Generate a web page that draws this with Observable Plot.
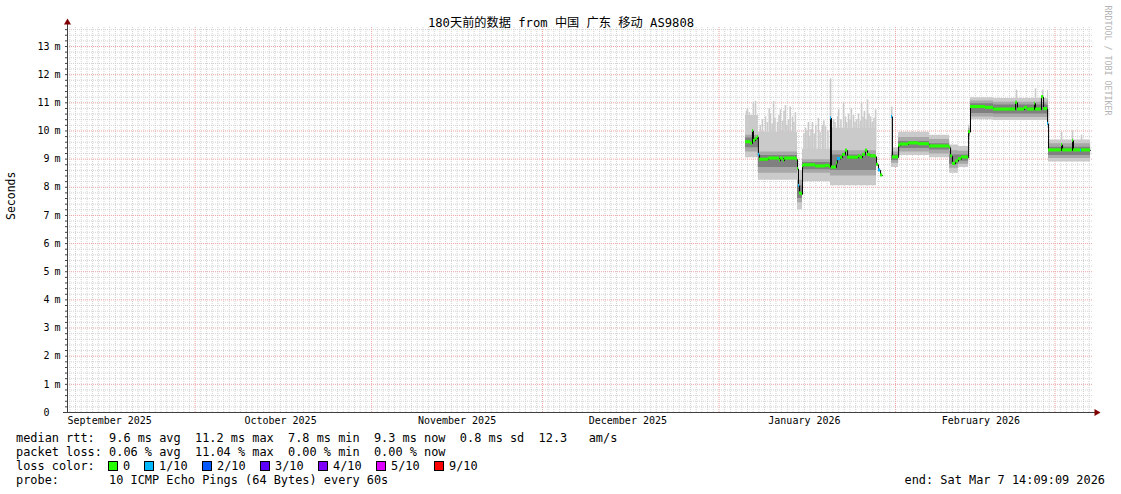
<!DOCTYPE html>
<html><head><meta charset="utf-8">
<script src="https://cdn.jsdelivr.net/npm/d3@7"></script>
<script src="https://cdn.jsdelivr.net/npm/@observablehq/plot@0.6"></script>
<style>
html,body{margin:0;padding:0;background:#fff;}
#wrap{position:relative;width:1121px;height:494px;overflow:hidden;font-family:"DejaVu Sans Mono",monospace;color:#000;background:#fff;}
#chart{position:absolute;left:0;top:0;}
.lg{position:absolute;font-size:11.9px;line-height:14px;white-space:pre;}
.box{position:absolute;width:8px;height:8px;border:1px solid #000;}
</style></head><body><div id="wrap"><div id="chart"></div></div>
<script>
// ---------------- data ----------------
const titleText = "180天前的数据 from 中国 广东 移动 AS9808";
const yAxisTitle = "Seconds";
const watermark = "RRDTOOL / TOBI OETIKER";
const rangeStart = "2025-09-08T14:09:09Z";
const rangeEnd = "2026-03-07T14:09:09Z";

const yTicks = [0,1,2,3,4,5,6,7,8,9,10,11,12,13];
const yUnit = "m";
const xTickDates = ["2025-09-16","2025-10-16","2025-11-16","2025-12-16","2026-01-16","2026-02-16"];
const xTickLabels = ["September 2025","October 2025","November 2025","December 2025","January 2026","February 2026"];

// median rtt (ms) at change points, with packet loss count (of 10)
const medTime = ["2026-01-05T16","2026-01-06T13","2026-01-06T21","2026-01-07T01","2026-01-07T10","2026-01-07T18","2026-01-07T22","2026-01-08T03","2026-01-09T17","2026-01-11T15","2026-01-11T19","2026-01-12T08","2026-01-12T12","2026-01-14T15","2026-01-14T19","2026-01-14T23","2026-01-15T03","2026-01-15T12","2026-01-15T16","2026-01-15T20","2026-01-17T23","2026-01-19T17","2026-01-20T10","2026-01-20T14","2026-01-20T18","2026-01-21T15","2026-01-21T19","2026-01-22T08","2026-01-22T17","2026-01-23T05","2026-01-23T14","2026-01-25T12","2026-01-25T20","2026-01-26T05","2026-01-26T17","2026-01-27T02","2026-01-27T15","2026-01-28T12","2026-01-28T16","2026-01-29T00","2026-01-29T09","2026-01-29T17","2026-01-29T18","2026-01-31T07","2026-01-31T11","2026-02-01T13","2026-02-01T21","2026-02-03T07","2026-02-05T01","2026-02-06T23","2026-02-10T12","2026-02-10T16","2026-02-11T00","2026-02-11T13","2026-02-12T01","2026-02-12T14","2026-02-13T15","2026-02-13T20","2026-02-14T04","2026-02-16T19","2026-02-18T05","2026-02-22T02","2026-02-22T10","2026-02-23T16","2026-02-24T04","2026-02-25T10","2026-02-25T14","2026-02-26T15","2026-02-27T00","2026-02-27T17","2026-02-27T21","2026-03-02T04","2026-03-02T08","2026-03-04T02","2026-03-04T06","2026-03-05T12","2026-03-05T16","2026-03-07T06"];
const medValue = [9.6,9.55,10.0,9.65,9.72,9.78,9.15,8.98,9.02,8.94,9.02,8.94,9.02,8.98,8.65,8.05,7.78,7.75,8.75,8.78,8.74,8.76,8.72,10.45,8.7,8.85,9.0,9.05,9.15,9.3,9.05,9.1,9.05,9.15,9.3,9.15,9.1,9.08,8.8,8.6,8.42,8.42,NaN,10.5,9.06,9.48,9.52,9.56,9.53,9.45,9.4,9.1,8.83,8.92,9.0,9.06,9.05,9.96,10.85,10.82,10.76,11.0,10.76,10.82,10.76,10.97,10.76,11.2,10.78,10.25,9.31,9.5,9.31,9.65,9.31,9.3,9.31,9.31];
const medLoss = [0,0,0,0,0,0,1,0,0,0,0,0,0,0,0,1,0,0,0,0,0,0,0,1,0,0,1,0,0,0,0,0,0,0,0,0,0,0,0,1,0,0,0,1,0,0,0,0,0,0,0,0,0,0,0,0,0,0,0,0,0,0,0,0,0,0,0,0,0,1,0,0,0,0,0,1,0,0];

// smoke (ping distribution) bands in ms, step segments
const smokeTime = ["2026-01-05T16","2026-01-07T22","2026-01-14T19","2026-01-15T16","2026-01-20T14","2026-01-28T16","2026-01-29T18","2026-01-31T07","2026-02-01T13","2026-02-06T23","2026-02-10T12","2026-02-12T01","2026-02-13T20","2026-02-14T04","2026-02-18T05","2026-02-27T17","2026-02-27T21","2026-03-07T06"];
const smokeMin = [9.05,8.25,7.2,8.2,8.05,7.9,NaN,8.7,9.13,9.05,8.5,8.7,9.7,10.4,10.37,10.1,8.9,8.9];
const smokeLo1 = [9.25,8.5,7.45,8.5,8.4,8.1,NaN,8.85,9.25,9.18,8.68,8.82,9.8,10.5,10.48,10.3,9.02,9.02];
const smokeLo2 = [9.4,8.7,7.6,8.62,8.6,8.25,NaN,8.95,9.38,9.32,8.82,8.92,9.88,10.62,10.6,10.5,9.13,9.13];
const smokeHi2 = [9.75,9.13,8.05,8.88,9.15,8.7,NaN,9.15,9.63,9.55,9.15,9.15,10.02,10.97,10.92,10.9,9.42,9.42];
const smokeHi1 = [9.85,9.25,8.25,8.98,9.3,8.85,NaN,9.25,9.77,9.7,9.3,9.28,10.1,11.06,11.02,11.1,9.55,9.55];
const smokeMax = [10.55,9.95,8.6,9.35,10.1,9.3,NaN,9.4,9.95,9.85,9.5,9.45,10.2,11.18,11.15,11.45,9.68,9.68];

// isolated high pings (ms)
const spikeTime = ["2026-01-05T20","2026-01-06T00","2026-01-06T08","2026-01-07T01","2026-01-07T10","2026-01-08T06","2026-01-08T15","2026-01-09T04","2026-01-09T12","2026-01-09T20","2026-01-10T01","2026-01-10T08","2026-01-10T14","2026-01-10T20","2026-01-11T07","2026-01-11T13","2026-01-11T19","2026-01-12T04","2026-01-12T10","2026-01-12T16","2026-01-12T22","2026-01-13T05","2026-01-13T12","2026-01-13T22","2026-01-14T03","2026-01-14T10","2026-01-15T22","2026-01-16T05","2026-01-16T11","2026-01-16T17","2026-01-16T23","2026-01-17T04","2026-01-17T10","2026-01-17T17","2026-01-18T00","2026-01-18T11","2026-01-18T18","2026-01-19T04","2026-01-19T10","2026-01-19T17","2026-01-20T03","2026-01-20T14","2026-01-21T03","2026-01-21T09","2026-01-21T20","2026-01-22T00","2026-01-22T10","2026-01-22T21","2026-01-23T05","2026-01-23T10","2026-01-23T18","2026-01-24T00","2026-01-24T06","2026-01-24T15","2026-01-24T21","2026-01-25T04","2026-01-25T12","2026-01-25T20","2026-01-26T01","2026-01-26T07","2026-01-26T13","2026-01-26T20","2026-01-27T02","2026-01-27T08","2026-01-27T15","2026-01-27T22","2026-01-28T05","2026-01-28T12","2026-01-31T08","2026-02-16T19","2026-02-22T06","2026-02-25T14","2026-02-26T20","2026-03-02T04","2026-03-04T02","2026-03-05T16"];
const spikeTop = [10.7,10.8,10.65,11.0,11.05,10.2,10.4,10.5,10.3,10.8,10.6,10.25,11.05,10.45,10.3,10.55,10.75,10.35,10.7,10.9,10.2,10.4,10.85,10.5,10.3,10.65,9.9,10.1,10.0,10.3,9.8,10.05,10.3,9.9,10.2,10.45,9.95,10.2,10.35,10.15,10.0,11.85,10.4,10.3,10.5,10.75,10.4,11.0,10.5,10.3,10.6,10.4,10.8,10.55,10.3,10.4,10.6,10.35,11.0,10.5,10.7,10.4,11.1,10.6,10.5,10.3,10.45,10.75,10.85,11.15,11.45,11.5,11.45,9.95,10.0,9.85];

const lossLabels = ["0","1/10","2/10","3/10","4/10","5/10","9/10"];
const lossColors = ["#26ff00","#00b8ff","#0059ff","#5e00ff","#7e00ff","#dd00ff","#ff0000"];
const lossColorByCount = {0:"#26ff00",1:"#00b8ff",2:"#0059ff",3:"#5e00ff",4:"#7e00ff",5:"#dd00ff",9:"#ff0000"};

const legendRtt = "median rtt:  9.6 ms avg  11.2 ms max  7.8 ms min  9.3 ms now  0.8 ms sd  12.3   am/s";
const legendLoss = "packet loss: 0.06 % avg  11.04 % max  0.00 % min  0.00 % now";
const legendLossTitle = "loss color:";
const legendProbe = "probe:       10 ICMP Echo Pings (64 Bytes) every 60s";
const legendEnd = "end: Sat Mar  7 14:09:09 2026";

// ---------------- build ----------------
const T = s => new Date(s + ":00:00Z");
const start = new Date(rangeStart), end = new Date(rangeEnd);
const med = medTime.map((t, i) => ({t: T(t), v: medValue[i], loss: medLoss[i]}));
const medSeg = med.slice(0, -1).map((d, i) => ({t1: d.t, t2: med[i + 1].t, v: d.v, loss: d.loss})).filter(d => !isNaN(d.v));
const smoke = smokeTime.map((t, i) => ({t: T(t), min: smokeMin[i], lo1: smokeLo1[i], lo2: smokeLo2[i], hi2: smokeHi2[i], hi1: smokeHi1[i], max: smokeMax[i]}));
const bis = d3.bisector(d => d.t).right;
const spikes = spikeTime.map((t, i) => {
  const tt = T(t);
  const row = smoke[Math.max(0, bis(smoke, tt) - 1)];
  return {t: tt, top: spikeTop[i], base: row.hi1};
});

const minorY = d3.range(1, 69).filter(i => i % 5).map(i => i / 5);
const majorY = yTicks.filter(d => d > 0);
const monthStarts = d3.utcMonth.range(start, end);
const days = d3.utcDay.range(start, end).filter(d => d.getUTCDate() !== 1);
const xTicks = xTickDates.map(s => new Date(s + "T00:00:00Z"));
const xLabelMap = new Map(xTicks.map((d, i) => [+d, xTickLabels[i]]));

const chart = Plot.plot({
  width: 1121, height: 430,
  marginLeft: 67, marginRight: 29, marginTop: 27, marginBottom: 18,
  x: {type: "utc", domain: [start, end]},
  y: {domain: [0, 13.675]},
  style: {fontFamily: "'DejaVu Sans Mono', 'Noto Sans CJK SC', monospace", fontSize: "10px", color: "#000", background: "#fff", overflow: "visible"},
  marks: [
    Plot.ruleY(minorY, {stroke: "#d2d2d2", strokeDasharray: "1,1"}),
    Plot.ruleX(days, {stroke: "#d2d2d2", strokeDasharray: "1,1"}),
    Plot.ruleY(majorY, {stroke: "#eca4a4", strokeDasharray: "1,1"}),
    Plot.ruleX(monthStarts, {stroke: "#eca4a4", strokeDasharray: "1,1"}),
    Plot.ruleX(spikes, {x: "t", y1: "base", y2: "top", stroke: "#cacaca", strokeWidth: 1.6}),
    Plot.areaY(smoke, {x: "t", y1: "min", y2: "max", fill: "#cacaca", curve: "step-after"}),
    Plot.areaY(smoke, {x: "t", y1: "lo1", y2: "hi1", fill: "#a8a8a8", curve: "step-after"}),
    Plot.areaY(smoke, {x: "t", y1: "lo2", y2: "hi2", fill: "#808080", curve: "step-after"}),
    Plot.line(med, {x: "t", y: "v", stroke: "#000", strokeWidth: 1, curve: "step-after"}),
    Plot.rect(medSeg, {x1: "t1", x2: "t2", y1: d => d.v - 0.055, y2: d => d.v + 0.055, fill: d => lossColorByCount[d.loss]}),
    Plot.axisY(minorY.concat(yTicks), {tickSize: 2, tickFormat: () => "", stroke: "#404040"}),
    Plot.axisY(yTicks, {tickSize: 0, tickPadding: 18, tickFormat: d => String(d)}),
    Plot.axisY(majorY, {tickSize: 0, tickPadding: 7, tickFormat: () => yUnit}),
    Plot.axisX(xTicks, {tickSize: 0, tickPadding: 4, tickFormat: d => xLabelMap.get(+d)}),
    Plot.ruleX([start], {stroke: "#404040", insetTop: -5}),
    Plot.ruleY([0], {stroke: "#404040", insetLeft: -4, insetRight: -4}),
    Plot.dot([0], {frameAnchor: "top-left", dy: -5, symbol: "triangle", r: 2.6, fill: "#800000"}),
    Plot.dot([0], {frameAnchor: "bottom-right", dx: 4, symbol: "triangle", r: 2.6, fill: "#800000", rotate: 90}),
    Plot.text([titleText], {frameAnchor: "top", dx: -19, dy: -9, fontSize: 12.2, fill: "#000"}),
    Plot.text([yAxisTitle], {frameAnchor: "left", dx: -56, rotate: -90, fontSize: 11.5, fill: "#000"}),
    Plot.text([watermark], {frameAnchor: "top-right", dx: 18, dy: -22, rotate: 90, textAnchor: "start", fontSize: 8.3, fill: "#b4b4b4"})
  ]
});
document.getElementById("chart").appendChild(chart);

// ---------------- legend ----------------
const wrap = document.getElementById("wrap");
const cw = 7.165;
function addText(txt, left, top, extra) {
  const d = document.createElement("div");
  d.className = "lg"; d.textContent = txt;
  d.style.left = left + "px"; d.style.top = top + "px";
  if (extra) Object.assign(d.style, extra);
  wrap.appendChild(d);
  return d;
}
addText(legendRtt, 16, 431);
addText(legendLoss, 16, 445);
addText(legendLossTitle, 16, 459);
let bx = 108;
lossLabels.forEach((lab, i) => {
  const b = document.createElement("div");
  b.className = "box"; b.style.left = bx + "px"; b.style.top = "461px"; b.style.background = lossColors[i];
  wrap.appendChild(b);
  const lx = bx + 15;
  addText(lab, lx, 459);
  bx = Math.round(lx + lab.length * cw + 14);
});
addText(legendProbe, 16, 473);
addText(legendEnd, 0, 473, {left: "auto", right: "16px", whiteSpace: "normal"});
</script></body></html>
